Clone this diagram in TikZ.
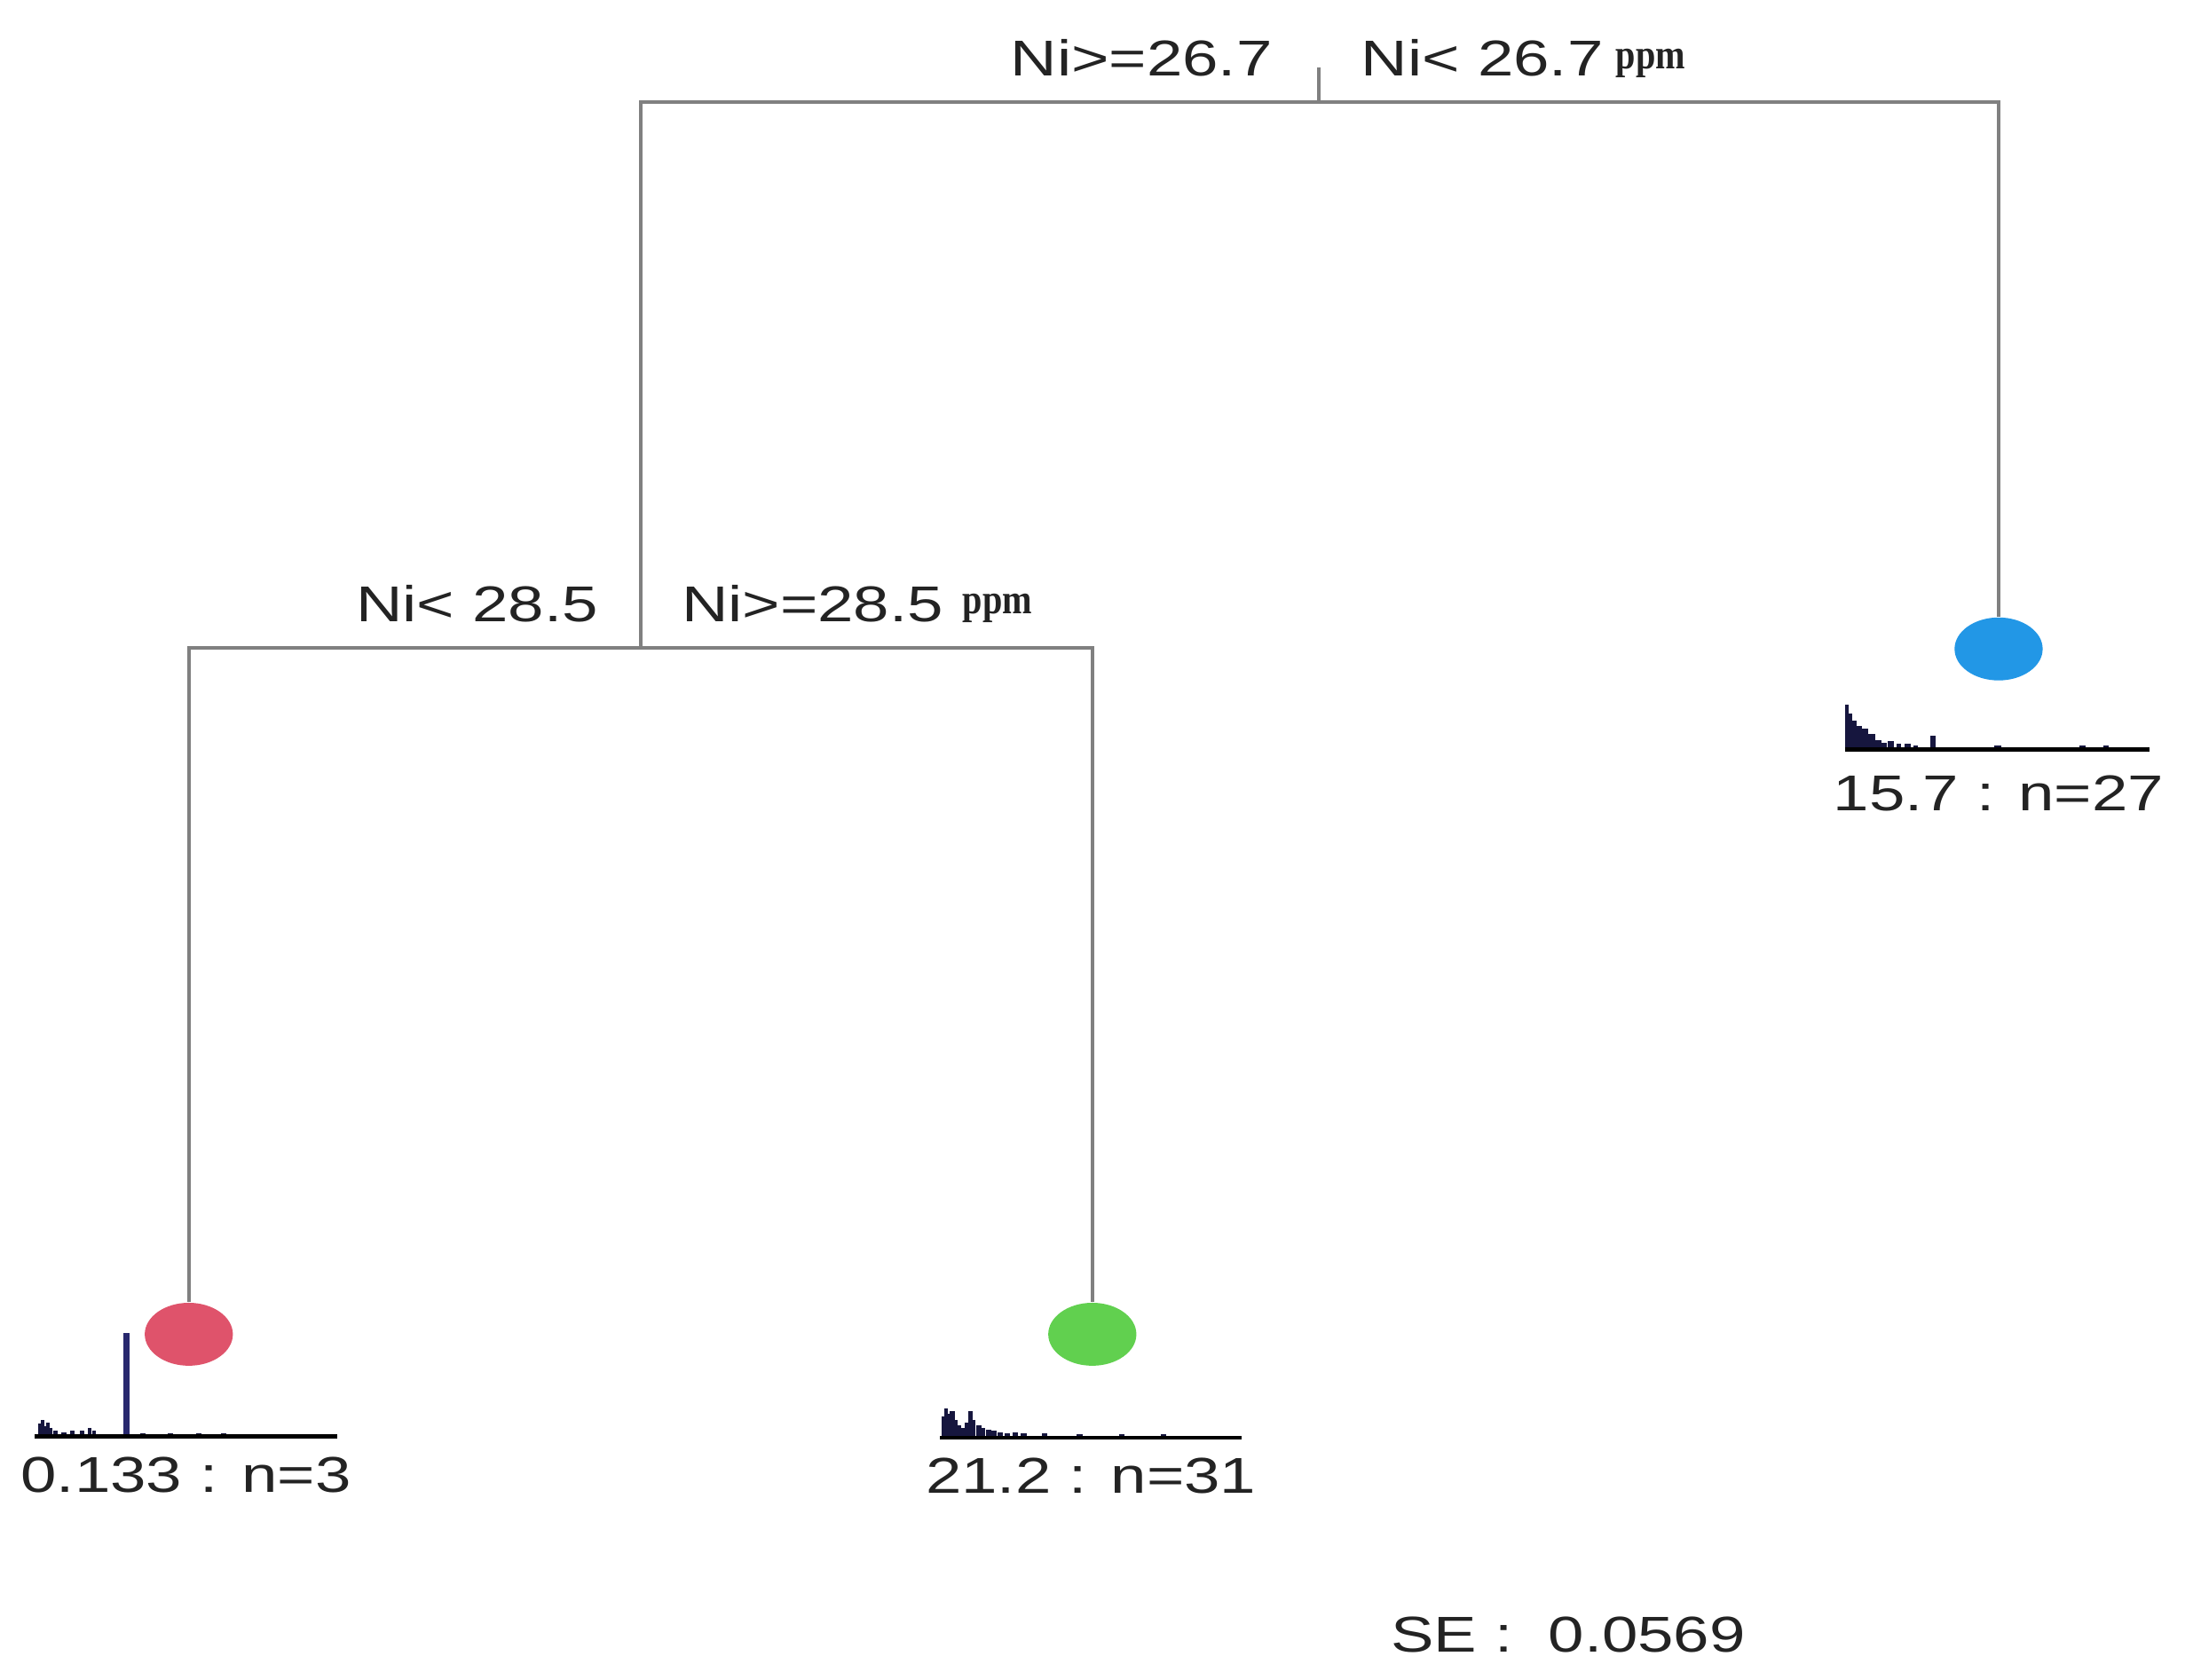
\documentclass[tikz,border=0pt]{standalone}
\usepackage{fontspec}
\setmainfont{Liberation Sans}
\newfontfamily\ppmfont{Liberation Serif}
\usetikzlibrary{shapes.geometric}
\definecolor{edgegray}{RGB}{128,128,128}
\definecolor{leafred}{HTML}{DF536B}
\definecolor{leafgreen}{HTML}{61D04F}
\definecolor{leafblue}{HTML}{2297E6}
\definecolor{histc}{RGB}{22,22,62}
\definecolor{spikec}{RGB}{40,40,110}
\definecolor{txt}{RGB}{35,35,35}
\newcommand{\wide}[1]{\scalebox{1.28}[1]{#1}}
\newcommand{\narrowppm}{\scalebox{0.85}[1]{\bfseries ppm}}
\begin{document}
\begin{tikzpicture}[x=0.5pt,y=-0.5pt,
  edge/.style={draw=edgegray,line width=1.3pt},
  leaf/.style={ellipse,draw=none,minimum width=31.5pt,minimum height=22.5pt,inner sep=0pt},
  lbl/.style={text=txt,font=\fontsize{18}{18}\selectfont,inner sep=0pt},
  ppmlbl/.style={text=txt,font=\ppmfont\fontsize{15}{15}\selectfont,inner sep=0pt},
  hbar/.style={fill=histc},
  hbase/.style={draw=black,line width=1.4pt}]
\useasboundingbox[fill=white] (0,0) rectangle (1568,1201);

% split points and leaves
\coordinate (r) at (943,73);
\coordinate (rt) at (943,48);
\coordinate (s) at (458,463);
\node[leaf,fill=leafblue] (b) at (1429,464) {};
\node[leaf,fill=leafred] (a) at (135,954) {};
\node[leaf,fill=leafgreen] (g) at (781,954) {};

% connectors
\draw[edge] (rt) -- (r);
\draw[edge] (s) |- (r) -| (b);
\draw[edge] (a) |- (s) -| (g);

% split labels
\node[lbl,anchor=base east] (l1) at (910,54.5) {\wide{Ni>=26.7}};
\node[lbl,anchor=base west] (l2) at (973,54.5) {\wide{Ni< 26.7}};
\node[ppmlbl,anchor=base west] (p1) at (1155,49) {\narrowppm};
\node[lbl,anchor=base east] (l3) at (428,444.5) {\wide{Ni< 28.5}};
\node[lbl,anchor=base west] (l4) at (487,444.5) {\wide{Ni>=28.5}};
\node[ppmlbl,anchor=base west] (p2) at (688,439) {\narrowppm};

% blue leaf histogram
\coordinate (hb0) at (1319,536);
\coordinate (hb1) at (1537,536);
\foreach \x/\w/\h in {1319/3/32,1321.5/3/26,1324/3.5/21,1327/4.5/17,1331/5/15,1336/4.5/11,1340/5/7,1345/4/5,1350/4/6,1356/3.5/4,1362/4/4,1368/3.5/3,1380/4/10,1426/5/3,1487/4/3,1504/4/3}
  \fill[hbar] (\x,536) rectangle ++(\w,-\h);
\draw[hbase] (hb0) -- (hb1);
\node[lbl,anchor=base] (t1) at (1429,579.5) {\wide{15.7 : n=27}};

% red leaf histogram
\coordinate (ha0) at (25,1027);
\coordinate (ha1) at (241,1027);
\foreach \x/\w/\h in {27/2.5/9,29/2.5/12,31/2.5/7,33/2.5/10,35/2.5/6,38/3/4,44/3.5/3,50/3/4,57/3/4,63/2.5/6,66/2.5/4,100/4/2.5,120/4/2.5,140/4/2.5,158/4/2.5}
  \fill[hbar] (\x,1027) rectangle ++(\w,-\h);
\fill[spikec] (88.5,1027) rectangle (92.5,953);
\draw[hbase] (ha0) -- (ha1);
\node[lbl,anchor=base] (t2) at (133,1067) {\wide{0.133 : n=3}};

% green leaf histogram
\coordinate (hg0) at (672,1028);
\coordinate (hg1) at (888,1028);
\foreach \x/\w/\h in {673/2.5/15,675/2.5/21,677/2.5/17,679/3.5/19,682/2.5/13,684/3.5/9,687/2.5/7,690/2.5/11,692/3.5/19,695/2.5/13,698/3.5/9,701/3.5/7,705/3.5/6,709/3.5/5,713/4/4,718/4/3,724/4/4,730/4/3,745/4/3,770/4/2.5,800/4/2.5,830/4/2.5}
  \fill[hbar] (\x,1028) rectangle ++(\w,-\h);
\draw[hbase] (hg0) -- (hg1);
\node[lbl,anchor=base] (t3) at (780,1067.5) {\wide{21.2 : n=31}};

% SE
\node[lbl,anchor=base west] (se) at (994,1181) {\wide{SE :\ \ 0.0569}};
\end{tikzpicture}
\end{document}
